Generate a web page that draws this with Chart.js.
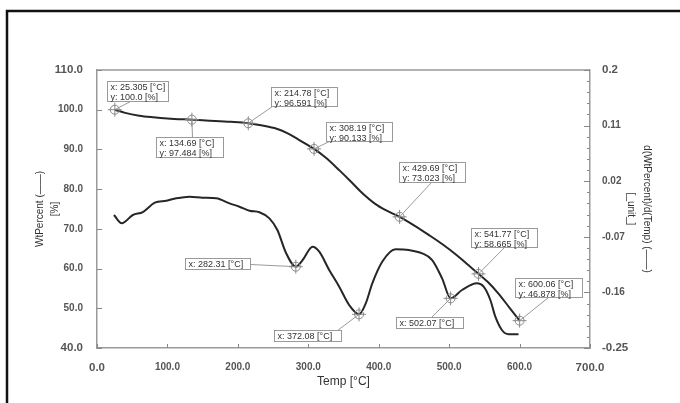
<!DOCTYPE html>
<html><head><meta charset="utf-8">
<script src="https://cdn.jsdelivr.net/npm/chart.js@4/dist/chart.umd.min.js"></script>
<style>html,body{margin:0;padding:0;background:#fff}#wrap{width:680px;height:403px}</style>
</head><body><div id="wrap"><canvas id="c" width="680" height="403"></canvas></div>
<script>
// ---- data ----
const tempWt = [25.3, 40, 60, 80, 100, 134.7, 160, 190, 214.8, 235, 255, 270, 285, 300, 308.2, 325, 345, 360, 375, 395, 410, 429.7, 450, 470, 490, 510, 525, 541.8, 555, 570, 585, 600.1];
const wtPercent = [100.0, 99.2, 98.5, 98.1, 97.8, 97.48, 97.25, 96.95, 96.59, 96.0, 95.2, 94.1, 92.6, 91.0, 90.13, 87.9, 84.6, 82.0, 79.3, 76.3, 74.7, 73.02, 70.9, 68.6, 66.2, 63.5, 61.2, 58.67, 56.6, 53.7, 50.3, 46.88];
const tempDeriv = [24.1, 35.0, 50.9, 65.1, 82.1, 98.6, 112.7, 131.5, 150.0, 169.4, 188.2, 202.3, 216.5, 230.6, 244.8, 256.1, 268.4, 282.3, 291.9, 306.1, 315.6, 329.7, 343.9, 358.0, 372.1, 381.6, 390.9, 405.0, 424.0, 442.9, 461.7, 475.9, 490.0, 502.1, 518.3, 539.5, 549.0, 558.5, 565.6, 574.9, 584.4, 598.5];
const derivValues = [-0.0347, -0.0481, -0.0347, -0.0299, -0.0148, -0.0116, -0.0077, -0.0051, -0.0067, -0.0077, -0.0158, -0.0213, -0.0278, -0.0303, -0.0401, -0.059, -0.0962, -0.1184, -0.1076, -0.086, -0.0941, -0.1237, -0.1508, -0.1804, -0.1955, -0.1777, -0.1453, -0.1103, -0.0902, -0.0914, -0.0967, -0.1076, -0.1372, -0.1696, -0.1561, -0.1453, -0.1508, -0.1723, -0.1993, -0.2209, -0.2278, -0.2278];
const xTickValues = [0, 100, 200, 300, 400, 500, 600, 700];
const leftTickValues = [40, 50, 60, 70, 80, 90, 100, 110];
const rightTickValues = [-0.25, -0.16, -0.07, 0.02, 0.11, 0.2];
const wtMarkTemp = [25.305, 134.69, 214.78, 308.19, 429.69, 541.77, 600.06];
const wtMarkValue = [100.0, 97.484, 96.591, 90.133, 73.023, 58.665, 46.878];
const wtMarkXText = ['25.305', '134.69', '214.78', '308.19', '429.69', '541.77', '600.06'];
const wtMarkYText = ['100.0', '97.484', '96.591', '90.133', '73.023', '58.665', '46.878'];
const derivMarkTemp = [282.31, 372.08, 502.07];
const derivMarkValue = [-0.1184, -0.1955, -0.1696];
const derivMarkXText = ['282.31', '372.08', '502.07'];

// ---- label box placement (style only) ----
const wtBoxStyle = [
  {dx:-8, dy:-29, w:61, h:20, lx:23, ly:20},
  {dx:-36, dy:17, w:67, h:20, lx:36, ly:0},
  {dx:23, dy:-36, w:66, h:19, lx:1, ly:19},
  {dx:12, dy:-27, w:66, h:19, lx:3, ly:19},
  {dx:-1, dy:-55, w:66, h:20, lx:32, ly:20},
  {dx:-8, dy:-46, w:66, h:19, lx:33, ly:19},
  {dx:-5, dy:-43, w:67, h:19, lx:33, ly:19}
];
const derivBoxStyle = [
  {dx:-111, dy:-9, w:65, h:11, lx:65, ly:6},
  {dx:-85, dy:16, w:67, h:11, lx:63, ly:0},
  {dx:-55, dy:19, w:67, h:11, lx:35, ly:0}
];

const FONT = "'Liberation Sans', Arial, sans-serif";

function drawMarker(c, x, y) {
  c.save();
  c.strokeStyle = '#8a8a8a'; c.lineWidth = 1;
  c.beginPath(); c.arc(x, y, 4.5, 0, Math.PI * 2); c.stroke();
  c.beginPath(); c.moveTo(x - 7, y); c.lineTo(x + 7, y); c.moveTo(x, y - 7); c.lineTo(x, y + 7); c.stroke();
  c.restore();
}
function drawBox(c, px, py, st, lines) {
  const bx = Math.round(px + st.dx) + 0.5, by = Math.round(py + st.dy) + 0.5;
  c.save();
  c.strokeStyle = '#9a9a9a'; c.lineWidth = 1;
  c.beginPath(); c.moveTo(px, py); c.lineTo(bx + st.lx, by + st.ly); c.stroke();
  c.fillStyle = '#fff'; c.fillRect(bx, by, st.w, st.h);
  c.strokeRect(bx, by, st.w, st.h);
  c.fillStyle = '#333'; c.font = '9px ' + FONT; c.textBaseline = 'alphabetic'; c.textAlign = 'left';
  lines.forEach((t, i) => c.fillText(t, bx + 3, by + 8.5 + i * 9.5));
  c.restore();
}

const decor = {
  id: 'decor',
  beforeDraw(chart) {
    const c = chart.ctx; c.save(); c.fillStyle = '#fff'; c.fillRect(0, 0, chart.width, chart.height); c.restore();
  },
  afterDatasetsDraw(chart) {
    const c = chart.ctx, a = chart.chartArea, s = chart.scales;
    c.save();
    // top frame line
    c.strokeStyle = '#9a9a9a'; c.lineWidth = 1.5;
    c.beginPath(); c.moveTo(a.left, a.top); c.lineTo(a.right, a.top); c.stroke();
    // inward ticks
    c.strokeStyle = '#888'; c.lineWidth = 1;
    c.beginPath();
    s.x.ticks.forEach(t => { const p = Math.round(s.x.getPixelForValue(t.value)) + 0.5; c.moveTo(p, a.bottom); c.lineTo(p, a.bottom - 4); });
    s.y.ticks.forEach(t => { const p = Math.round(s.y.getPixelForValue(t.value)) + 0.5; c.moveTo(a.left, p); c.lineTo(a.left + 5, p); });
    for (let i = 0; i < rightTickValues.length; i++) {
      const v = rightTickValues[i];
      const p = Math.round(s.y1.getPixelForValue(v)) + 0.5;
      c.moveTo(a.right, p); c.lineTo(a.right - 6, p);
      if (i < rightTickValues.length - 1) {
        const step = (rightTickValues[i + 1] - v) / 5;
        for (let k = 1; k < 5; k++) {
          const q = Math.round(s.y1.getPixelForValue(v + step * k)) + 0.5;
          c.moveTo(a.right, q); c.lineTo(a.right - 3, q);
        }
      }
    }
    c.stroke();
    // markers + label boxes
    wtMarkTemp.forEach((t, i) => {
      const px = s.x.getPixelForValue(t), py = s.y.getPixelForValue(wtMarkValue[i]);
      drawBox(c, px, py, wtBoxStyle[i], ['x: ' + wtMarkXText[i] + ' [\u00B0C]', 'y: ' + wtMarkYText[i] + ' [%]']);
      drawMarker(c, px, py);
    });
    derivMarkTemp.forEach((t, i) => {
      const px = s.x.getPixelForValue(t), py = s.y1.getPixelForValue(derivMarkValue[i]);
      drawBox(c, px, py, derivBoxStyle[i], ['x: ' + derivMarkXText[i] + ' [\u00B0C]']);
      drawMarker(c, px, py);
    });
    // outer black border (top + left)
    c.strokeStyle = '#111'; c.lineWidth = 2.5;
    c.beginPath(); c.moveTo(7, 403); c.lineTo(7, 11); c.lineTo(680, 11); c.stroke();
    c.restore();
  }
};

const tickFont = (n) => (ctx) => {
  const last = n - 1;
  const big = ctx.index === 0 || ctx.index === last;
  return {family: FONT, size: big ? 11.5 : 10, weight: 'bold'};
};

new Chart(document.getElementById('c'), {
  type: 'line',
  data: {
    datasets: [
      {label: 'WtPercent', data: tempWt.map((t, i) => ({x: t, y: wtPercent[i]})), yAxisID: 'y',
       borderColor: '#262626', borderWidth: 2, pointRadius: 0, cubicInterpolationMode: 'monotone', fill: false},
      {label: 'd(WtPercent)/d(Temp)', data: tempDeriv.map((t, i) => ({x: t, y: derivValues[i]})), yAxisID: 'y1',
       borderColor: '#262626', borderWidth: 2, pointRadius: 0, cubicInterpolationMode: 'monotone', fill: false}
    ]
  },
  options: {
    responsive: false, animation: false, events: [],
    layout: {padding: {top: 70, left: 0, right: 0, bottom: 0}},
    plugins: {legend: {display: false}, tooltip: {enabled: false}},
    scales: {
      x: {
        type: 'linear', position: 'bottom', min: 0, max: 700,
        afterBuildTicks: sc => { sc.ticks = xTickValues.map(v => ({value: v})); },
        afterFit: sc => { sc.height = 55; },
        grid: {display: false}, border: {display: true, color: '#9a9a9a', width: 1.5},
        ticks: {autoSkip: false, maxRotation: 0, padding: 5, color: '#555', font: tickFont(xTickValues.length), callback: v => Number(v).toFixed(1)},
        title: {display: true, text: 'Temp [\u00B0C]', color: '#333', font: {family: FONT, size: 12}, padding: {top: 4, bottom: 14}}
      },
      y: {
        type: 'linear', position: 'left', min: 40, max: 110,
        afterBuildTicks: sc => { sc.ticks = leftTickValues.map(v => ({value: v})); },
        afterFit: sc => { sc.width = 97; },
        grid: {display: false}, border: {display: true, color: '#9a9a9a', width: 1.5},
        ticks: {autoSkip: false, padding: 6, color: '#555', font: tickFont(leftTickValues.length), callback: v => Number(v).toFixed(1)},
        title: {display: true, text: ['WtPercent (\u2014\u2014)', '[%]'], color: '#333', font: {family: FONT, size: 10, lineHeight: 1.5}, padding: {top: 32.5, bottom: 0}}
      },
      y1: {
        type: 'linear', position: 'right', min: -0.25, max: 0.2,
        afterBuildTicks: sc => { sc.ticks = rightTickValues.map(v => ({value: v})); },
        afterFit: sc => { sc.width = 90; },
        grid: {display: false}, border: {display: true, color: '#9a9a9a', width: 1.5},
        ticks: {autoSkip: false, padding: 4, color: '#555', font: tickFont(rightTickValues.length), callback: v => String(v)},
        title: {display: true, text: ['d(WtPercent)/d(Temp) (\u2014\u2014)', '[_unit_]'], color: '#333', font: {family: FONT, size: 10, lineHeight: 1.6}, padding: {top: 25, bottom: 0}}
      }
    }
  },
  plugins: [decor]
});
</script></body></html>
